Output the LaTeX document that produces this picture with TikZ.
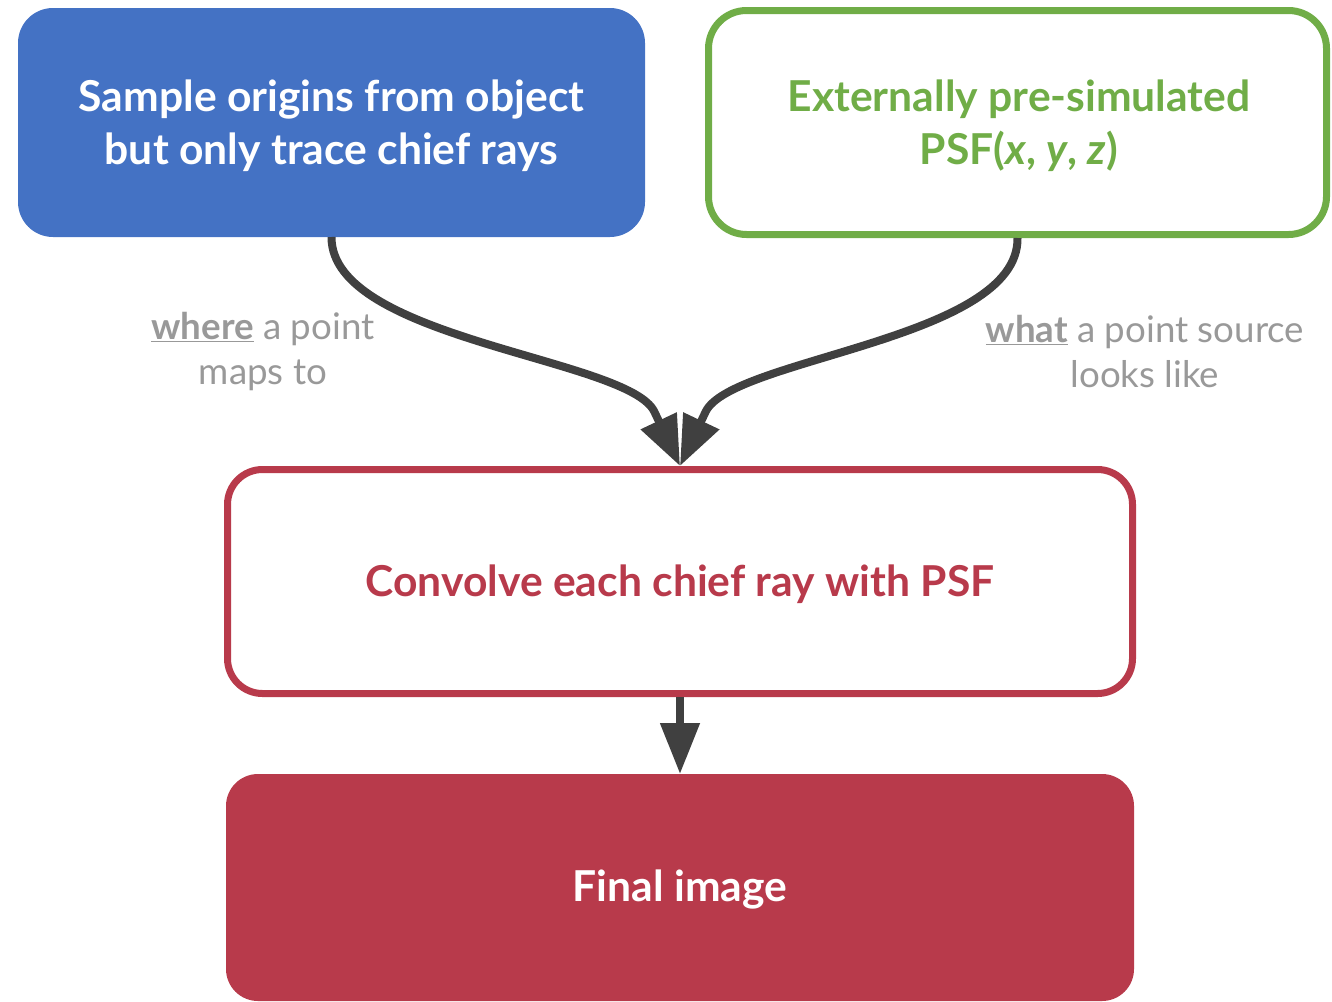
\documentclass[tikz,border=0pt]{standalone}
\usepackage{fontspec}
\setmainfont{Lato}
\usetikzlibrary{arrows.meta}
\definecolor{cblue}{HTML}{4472C4}
\definecolor{cgreen}{HTML}{70AD47}
\definecolor{cred}{HTML}{B83A4B}
\definecolor{carrow}{HTML}{404040}
\definecolor{clabel}{HTML}{999999}
\tikzset{
  boxtext/.style={font=\fontsize{42.6}{53}\selectfont\bfseries, align=center},
  lbl/.style={font=\fontsize{36.7}{45}\selectfont, align=center, text=clabel},
  conn/.style={draw=carrow, line width=8pt},
  bigtip/.style={-{Triangle[length=50pt,width=38pt]}},
}
\begin{document}
\begin{tikzpicture}[x=1pt,y=-1pt]
\useasboundingbox (0,0) rectangle (1332,1001);
% boxes
\node[fill=cblue, rounded corners=35pt, minimum width=627pt, minimum height=229pt, inner sep=0pt, outer sep=0pt] (blue) at (331.5,122.5) {};
\node[boxtext, text=white] (bluetext) at (331.5,126) {Sample origins from object\\but only trace chief rays};
\node[draw=cgreen, line width=7pt, rounded corners=38pt, minimum width=618pt, minimum height=224pt, inner sep=0pt] (green) at (1017.5,122.5) {};
\node[boxtext, text=cgreen] (greentext) at (1019,126) {Externally pre-simulated\\PSF(\textit{x}, \textit{y}, \textit{z})};
\node[draw=cred, line width=7pt, rounded corners=35pt, minimum width=905pt, minimum height=224pt, inner sep=0pt] (conv) at (680,581.5) {};
\node[boxtext, text=cred] (convtext) at (680,584) {Convolve each chief ray with PSF};
\node[fill=cred, rounded corners=32pt, minimum width=908pt, minimum height=227pt, inner sep=0pt, outer sep=0pt] (final) at (680,887.5) {};
\node[boxtext, text=white] (finaltext) at (680,890) {Final image};
% labels
\node[lbl] (lblwhere) at (263,352) {\textbf{\underline{where}} a point\\maps to};
\node[lbl] (lblwhat) at (1145,352) {\textbf{\underline{what}} a point source\\looks like};
% connectors
\coordinate (lbend) at (654.4,411.8);
\coordinate (rbend) at (705.6,411.8);
\draw[conn, bigtip] (blue.south) .. controls (331,340) and (629,358) .. (lbend) -- (conv.north);
\draw[conn, bigtip] (green.south) .. controls (1019,340) and (731,358) .. (rbend) -- (conv.north);
\draw[conn, -{Triangle[length=51pt,width=38pt]}] (conv.south) -- (final.north);
\end{tikzpicture}
\end{document}
